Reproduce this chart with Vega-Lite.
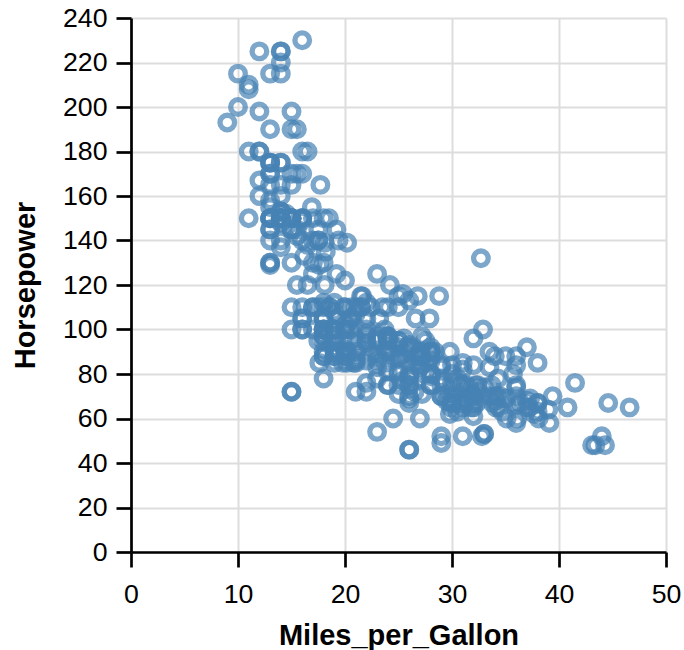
{
  "$schema": "https://vega.github.io/schema/vega-lite/v6.json",
  "width": 535,
  "height": 534,
  "autosize": {"type": "none"},
  "padding": {"left": 131, "top": 18, "right": 18, "bottom": 98},
  "data": {"values": [
{"Miles_per_Gallon":18,"Horsepower":130},{"Miles_per_Gallon":15,"Horsepower":165},{"Miles_per_Gallon":18,"Horsepower":150},{"Miles_per_Gallon":16,"Horsepower":150},{"Miles_per_Gallon":17,"Horsepower":140},{"Miles_per_Gallon":15,"Horsepower":198},{"Miles_per_Gallon":14,"Horsepower":220},{"Miles_per_Gallon":14,"Horsepower":215},{"Miles_per_Gallon":14,"Horsepower":225},{"Miles_per_Gallon":15,"Horsepower":190},{"Miles_per_Gallon":15,"Horsepower":170},{"Miles_per_Gallon":14,"Horsepower":160},{"Miles_per_Gallon":15,"Horsepower":150},{"Miles_per_Gallon":14,"Horsepower":225},{"Miles_per_Gallon":24,"Horsepower":95},{"Miles_per_Gallon":22,"Horsepower":95},{"Miles_per_Gallon":18,"Horsepower":97},{"Miles_per_Gallon":21,"Horsepower":85},{"Miles_per_Gallon":27,"Horsepower":88},{"Miles_per_Gallon":26,"Horsepower":46},{"Miles_per_Gallon":25,"Horsepower":87},{"Miles_per_Gallon":24,"Horsepower":90},{"Miles_per_Gallon":25,"Horsepower":95},{"Miles_per_Gallon":26,"Horsepower":113},{"Miles_per_Gallon":21,"Horsepower":90},{"Miles_per_Gallon":10,"Horsepower":215},{"Miles_per_Gallon":10,"Horsepower":200},{"Miles_per_Gallon":11,"Horsepower":210},{"Miles_per_Gallon":9,"Horsepower":193},{"Miles_per_Gallon":27,"Horsepower":88},{"Miles_per_Gallon":28,"Horsepower":90},{"Miles_per_Gallon":25,"Horsepower":95},{"Miles_per_Gallon":19,"Horsepower":100},{"Miles_per_Gallon":16,"Horsepower":105},{"Miles_per_Gallon":17,"Horsepower":100},{"Miles_per_Gallon":19,"Horsepower":88},{"Miles_per_Gallon":18,"Horsepower":100},{"Miles_per_Gallon":14,"Horsepower":165},{"Miles_per_Gallon":14,"Horsepower":175},{"Miles_per_Gallon":14,"Horsepower":153},{"Miles_per_Gallon":14,"Horsepower":150},{"Miles_per_Gallon":12,"Horsepower":180},{"Miles_per_Gallon":13,"Horsepower":170},{"Miles_per_Gallon":13,"Horsepower":175},{"Miles_per_Gallon":18,"Horsepower":110},{"Miles_per_Gallon":22,"Horsepower":72},{"Miles_per_Gallon":19,"Horsepower":100},{"Miles_per_Gallon":18,"Horsepower":88},{"Miles_per_Gallon":23,"Horsepower":86},{"Miles_per_Gallon":28,"Horsepower":90},{"Miles_per_Gallon":30,"Horsepower":70},{"Miles_per_Gallon":30,"Horsepower":76},{"Miles_per_Gallon":31,"Horsepower":65},{"Miles_per_Gallon":35,"Horsepower":69},{"Miles_per_Gallon":27,"Horsepower":60},{"Miles_per_Gallon":26,"Horsepower":70},{"Miles_per_Gallon":24,"Horsepower":95},{"Miles_per_Gallon":25,"Horsepower":80},{"Miles_per_Gallon":23,"Horsepower":54},{"Miles_per_Gallon":20,"Horsepower":90},{"Miles_per_Gallon":21,"Horsepower":86},{"Miles_per_Gallon":13,"Horsepower":165},{"Miles_per_Gallon":14,"Horsepower":175},{"Miles_per_Gallon":15,"Horsepower":150},{"Miles_per_Gallon":14,"Horsepower":153},{"Miles_per_Gallon":17,"Horsepower":150},{"Miles_per_Gallon":11,"Horsepower":208},{"Miles_per_Gallon":13,"Horsepower":155},{"Miles_per_Gallon":12,"Horsepower":160},{"Miles_per_Gallon":13,"Horsepower":190},{"Miles_per_Gallon":19,"Horsepower":97},{"Miles_per_Gallon":15,"Horsepower":150},{"Miles_per_Gallon":13,"Horsepower":130},{"Miles_per_Gallon":13,"Horsepower":140},{"Miles_per_Gallon":14,"Horsepower":150},{"Miles_per_Gallon":18,"Horsepower":112},{"Miles_per_Gallon":22,"Horsepower":76},{"Miles_per_Gallon":21,"Horsepower":87},{"Miles_per_Gallon":26,"Horsepower":69},{"Miles_per_Gallon":22,"Horsepower":86},{"Miles_per_Gallon":28,"Horsepower":92},{"Miles_per_Gallon":23,"Horsepower":97},{"Miles_per_Gallon":28,"Horsepower":80},{"Miles_per_Gallon":27,"Horsepower":88},{"Miles_per_Gallon":13,"Horsepower":175},{"Miles_per_Gallon":14,"Horsepower":150},{"Miles_per_Gallon":13,"Horsepower":145},{"Miles_per_Gallon":14,"Horsepower":137},{"Miles_per_Gallon":15,"Horsepower":150},{"Miles_per_Gallon":12,"Horsepower":198},{"Miles_per_Gallon":13,"Horsepower":150},{"Miles_per_Gallon":13,"Horsepower":158},{"Miles_per_Gallon":14,"Horsepower":150},{"Miles_per_Gallon":13,"Horsepower":215},{"Miles_per_Gallon":12,"Horsepower":225},{"Miles_per_Gallon":13,"Horsepower":175},{"Miles_per_Gallon":18,"Horsepower":105},{"Miles_per_Gallon":16,"Horsepower":100},{"Miles_per_Gallon":18,"Horsepower":100},{"Miles_per_Gallon":18,"Horsepower":88},{"Miles_per_Gallon":23,"Horsepower":95},{"Miles_per_Gallon":26,"Horsepower":46},{"Miles_per_Gallon":11,"Horsepower":150},{"Miles_per_Gallon":12,"Horsepower":167},{"Miles_per_Gallon":13,"Horsepower":170},{"Miles_per_Gallon":12,"Horsepower":180},{"Miles_per_Gallon":18,"Horsepower":100},{"Miles_per_Gallon":20,"Horsepower":88},{"Miles_per_Gallon":21,"Horsepower":72},{"Miles_per_Gallon":22,"Horsepower":94},{"Miles_per_Gallon":18,"Horsepower":90},{"Miles_per_Gallon":19,"Horsepower":85},{"Miles_per_Gallon":21,"Horsepower":107},{"Miles_per_Gallon":26,"Horsepower":90},{"Miles_per_Gallon":15,"Horsepower":145},{"Miles_per_Gallon":16,"Horsepower":230},{"Miles_per_Gallon":29,"Horsepower":49},{"Miles_per_Gallon":24,"Horsepower":75},{"Miles_per_Gallon":20,"Horsepower":91},{"Miles_per_Gallon":19,"Horsepower":112},{"Miles_per_Gallon":15,"Horsepower":150},{"Miles_per_Gallon":24,"Horsepower":110},{"Miles_per_Gallon":20,"Horsepower":122},{"Miles_per_Gallon":11,"Horsepower":180},{"Miles_per_Gallon":20,"Horsepower":95},{"Miles_per_Gallon":19,"Horsepower":100},{"Miles_per_Gallon":15,"Horsepower":100},{"Miles_per_Gallon":31,"Horsepower":67},{"Miles_per_Gallon":26,"Horsepower":80},{"Miles_per_Gallon":32,"Horsepower":65},{"Miles_per_Gallon":25,"Horsepower":75},{"Miles_per_Gallon":16,"Horsepower":100},{"Miles_per_Gallon":16,"Horsepower":110},{"Miles_per_Gallon":18,"Horsepower":105},{"Miles_per_Gallon":16,"Horsepower":140},{"Miles_per_Gallon":13,"Horsepower":150},{"Miles_per_Gallon":14,"Horsepower":150},{"Miles_per_Gallon":14,"Horsepower":140},{"Miles_per_Gallon":14,"Horsepower":150},{"Miles_per_Gallon":29,"Horsepower":83},{"Miles_per_Gallon":26,"Horsepower":67},{"Miles_per_Gallon":26,"Horsepower":78},{"Miles_per_Gallon":31,"Horsepower":52},{"Miles_per_Gallon":32,"Horsepower":61},{"Miles_per_Gallon":28,"Horsepower":75},{"Miles_per_Gallon":24,"Horsepower":75},{"Miles_per_Gallon":26,"Horsepower":75},{"Miles_per_Gallon":24,"Horsepower":97},{"Miles_per_Gallon":26,"Horsepower":93},{"Miles_per_Gallon":31,"Horsepower":67},{"Miles_per_Gallon":19,"Horsepower":95},{"Miles_per_Gallon":18,"Horsepower":105},{"Miles_per_Gallon":15,"Horsepower":72},{"Miles_per_Gallon":15,"Horsepower":72},{"Miles_per_Gallon":16,"Horsepower":170},{"Miles_per_Gallon":15,"Horsepower":145},{"Miles_per_Gallon":16,"Horsepower":150},{"Miles_per_Gallon":14,"Horsepower":148},{"Miles_per_Gallon":17,"Horsepower":110},{"Miles_per_Gallon":16,"Horsepower":105},{"Miles_per_Gallon":15,"Horsepower":110},{"Miles_per_Gallon":18,"Horsepower":95},{"Miles_per_Gallon":21,"Horsepower":110},{"Miles_per_Gallon":20,"Horsepower":110},{"Miles_per_Gallon":13,"Horsepower":129},{"Miles_per_Gallon":29,"Horsepower":75},{"Miles_per_Gallon":23,"Horsepower":83},{"Miles_per_Gallon":20,"Horsepower":100},{"Miles_per_Gallon":23,"Horsepower":78},{"Miles_per_Gallon":24,"Horsepower":96},{"Miles_per_Gallon":25,"Horsepower":71},{"Miles_per_Gallon":24,"Horsepower":97},{"Miles_per_Gallon":18,"Horsepower":97},{"Miles_per_Gallon":29,"Horsepower":70},{"Miles_per_Gallon":19,"Horsepower":90},{"Miles_per_Gallon":23,"Horsepower":95},{"Miles_per_Gallon":23,"Horsepower":88},{"Miles_per_Gallon":22,"Horsepower":98},{"Miles_per_Gallon":25,"Horsepower":115},{"Miles_per_Gallon":33,"Horsepower":53},{"Miles_per_Gallon":28,"Horsepower":86},{"Miles_per_Gallon":25,"Horsepower":81},{"Miles_per_Gallon":25,"Horsepower":92},{"Miles_per_Gallon":26,"Horsepower":79},{"Miles_per_Gallon":27,"Horsepower":83},{"Miles_per_Gallon":17.5,"Horsepower":140},{"Miles_per_Gallon":16,"Horsepower":150},{"Miles_per_Gallon":15.5,"Horsepower":120},{"Miles_per_Gallon":14.5,"Horsepower":152},{"Miles_per_Gallon":22,"Horsepower":100},{"Miles_per_Gallon":22,"Horsepower":105},{"Miles_per_Gallon":24,"Horsepower":81},{"Miles_per_Gallon":22.5,"Horsepower":90},{"Miles_per_Gallon":29,"Horsepower":52},{"Miles_per_Gallon":24.5,"Horsepower":60},{"Miles_per_Gallon":29,"Horsepower":70},{"Miles_per_Gallon":33,"Horsepower":53},{"Miles_per_Gallon":20,"Horsepower":100},{"Miles_per_Gallon":18,"Horsepower":78},{"Miles_per_Gallon":18.5,"Horsepower":110},{"Miles_per_Gallon":17.5,"Horsepower":95},{"Miles_per_Gallon":29.5,"Horsepower":71},{"Miles_per_Gallon":32,"Horsepower":70},{"Miles_per_Gallon":28,"Horsepower":75},{"Miles_per_Gallon":26.5,"Horsepower":72},{"Miles_per_Gallon":20,"Horsepower":102},{"Miles_per_Gallon":13,"Horsepower":150},{"Miles_per_Gallon":19,"Horsepower":88},{"Miles_per_Gallon":19,"Horsepower":108},{"Miles_per_Gallon":16.5,"Horsepower":120},{"Miles_per_Gallon":16.5,"Horsepower":180},{"Miles_per_Gallon":13,"Horsepower":145},{"Miles_per_Gallon":13,"Horsepower":130},{"Miles_per_Gallon":13,"Horsepower":150},{"Miles_per_Gallon":31.5,"Horsepower":68},{"Miles_per_Gallon":30,"Horsepower":80},{"Miles_per_Gallon":36,"Horsepower":58},{"Miles_per_Gallon":25.5,"Horsepower":96},{"Miles_per_Gallon":33.5,"Horsepower":70},{"Miles_per_Gallon":17.5,"Horsepower":145},{"Miles_per_Gallon":17,"Horsepower":110},{"Miles_per_Gallon":15.5,"Horsepower":145},{"Miles_per_Gallon":15,"Horsepower":130},{"Miles_per_Gallon":17.5,"Horsepower":110},{"Miles_per_Gallon":20.5,"Horsepower":105},{"Miles_per_Gallon":19,"Horsepower":100},{"Miles_per_Gallon":18.5,"Horsepower":98},{"Miles_per_Gallon":16,"Horsepower":180},{"Miles_per_Gallon":15.5,"Horsepower":170},{"Miles_per_Gallon":15.5,"Horsepower":190},{"Miles_per_Gallon":16,"Horsepower":149},{"Miles_per_Gallon":29,"Horsepower":78},{"Miles_per_Gallon":24.5,"Horsepower":88},{"Miles_per_Gallon":26,"Horsepower":75},{"Miles_per_Gallon":25.5,"Horsepower":89},{"Miles_per_Gallon":30.5,"Horsepower":63},{"Miles_per_Gallon":33.5,"Horsepower":83},{"Miles_per_Gallon":30,"Horsepower":67},{"Miles_per_Gallon":30.5,"Horsepower":78},{"Miles_per_Gallon":22,"Horsepower":97},{"Miles_per_Gallon":21.5,"Horsepower":110},{"Miles_per_Gallon":21.5,"Horsepower":110},{"Miles_per_Gallon":43.1,"Horsepower":48},{"Miles_per_Gallon":36.1,"Horsepower":66},{"Miles_per_Gallon":32.8,"Horsepower":52},{"Miles_per_Gallon":39.4,"Horsepower":70},{"Miles_per_Gallon":36.1,"Horsepower":60},{"Miles_per_Gallon":19.9,"Horsepower":110},{"Miles_per_Gallon":19.4,"Horsepower":140},{"Miles_per_Gallon":20.2,"Horsepower":139},{"Miles_per_Gallon":19.2,"Horsepower":105},{"Miles_per_Gallon":20.5,"Horsepower":95},{"Miles_per_Gallon":20.2,"Horsepower":85},{"Miles_per_Gallon":25.1,"Horsepower":88},{"Miles_per_Gallon":20.5,"Horsepower":100},{"Miles_per_Gallon":19.4,"Horsepower":90},{"Miles_per_Gallon":20.6,"Horsepower":105},{"Miles_per_Gallon":20.8,"Horsepower":85},{"Miles_per_Gallon":18.6,"Horsepower":110},{"Miles_per_Gallon":18.1,"Horsepower":120},{"Miles_per_Gallon":19.2,"Horsepower":145},{"Miles_per_Gallon":17.7,"Horsepower":165},{"Miles_per_Gallon":18.1,"Horsepower":139},{"Miles_per_Gallon":17.5,"Horsepower":140},{"Miles_per_Gallon":30,"Horsepower":68},{"Miles_per_Gallon":27.5,"Horsepower":95},{"Miles_per_Gallon":27.2,"Horsepower":97},{"Miles_per_Gallon":30.9,"Horsepower":75},{"Miles_per_Gallon":21.1,"Horsepower":95},{"Miles_per_Gallon":23.2,"Horsepower":105},{"Miles_per_Gallon":23.8,"Horsepower":85},{"Miles_per_Gallon":23.9,"Horsepower":97},{"Miles_per_Gallon":20.3,"Horsepower":103},{"Miles_per_Gallon":17,"Horsepower":125},{"Miles_per_Gallon":21.6,"Horsepower":115},{"Miles_per_Gallon":16.2,"Horsepower":133},{"Miles_per_Gallon":31.5,"Horsepower":71},{"Miles_per_Gallon":29.5,"Horsepower":68},{"Miles_per_Gallon":21.5,"Horsepower":115},{"Miles_per_Gallon":19.8,"Horsepower":85},{"Miles_per_Gallon":22.3,"Horsepower":88},{"Miles_per_Gallon":20.2,"Horsepower":90},{"Miles_per_Gallon":20.6,"Horsepower":110},{"Miles_per_Gallon":17,"Horsepower":130},{"Miles_per_Gallon":17.6,"Horsepower":129},{"Miles_per_Gallon":16.5,"Horsepower":138},{"Miles_per_Gallon":18.2,"Horsepower":135},{"Miles_per_Gallon":16.9,"Horsepower":155},{"Miles_per_Gallon":15.5,"Horsepower":142},{"Miles_per_Gallon":19.2,"Horsepower":125},{"Miles_per_Gallon":18.5,"Horsepower":150},{"Miles_per_Gallon":31.9,"Horsepower":71},{"Miles_per_Gallon":34.1,"Horsepower":65},{"Miles_per_Gallon":35.7,"Horsepower":80},{"Miles_per_Gallon":27.4,"Horsepower":80},{"Miles_per_Gallon":25.4,"Horsepower":77},{"Miles_per_Gallon":23,"Horsepower":125},{"Miles_per_Gallon":27.2,"Horsepower":71},{"Miles_per_Gallon":23.9,"Horsepower":90},{"Miles_per_Gallon":34.2,"Horsepower":70},{"Miles_per_Gallon":34.5,"Horsepower":70},{"Miles_per_Gallon":31.8,"Horsepower":65},{"Miles_per_Gallon":37.3,"Horsepower":69},{"Miles_per_Gallon":28.4,"Horsepower":90},{"Miles_per_Gallon":28.8,"Horsepower":115},{"Miles_per_Gallon":26.8,"Horsepower":115},{"Miles_per_Gallon":33.5,"Horsepower":90},{"Miles_per_Gallon":41.5,"Horsepower":76},{"Miles_per_Gallon":38.1,"Horsepower":60},{"Miles_per_Gallon":32.1,"Horsepower":70},{"Miles_per_Gallon":37.2,"Horsepower":65},{"Miles_per_Gallon":28,"Horsepower":90},{"Miles_per_Gallon":26.4,"Horsepower":88},{"Miles_per_Gallon":24.3,"Horsepower":90},{"Miles_per_Gallon":19.1,"Horsepower":90},{"Miles_per_Gallon":34.3,"Horsepower":78},{"Miles_per_Gallon":29.8,"Horsepower":90},{"Miles_per_Gallon":31.3,"Horsepower":75},{"Miles_per_Gallon":37,"Horsepower":92},{"Miles_per_Gallon":32.2,"Horsepower":75},{"Miles_per_Gallon":46.6,"Horsepower":65},{"Miles_per_Gallon":27.9,"Horsepower":105},{"Miles_per_Gallon":40.8,"Horsepower":65},{"Miles_per_Gallon":44.3,"Horsepower":48},{"Miles_per_Gallon":43.4,"Horsepower":48},{"Miles_per_Gallon":36.4,"Horsepower":67},{"Miles_per_Gallon":30,"Horsepower":67},{"Miles_per_Gallon":44.6,"Horsepower":67},{"Miles_per_Gallon":33.8,"Horsepower":67},{"Miles_per_Gallon":29.8,"Horsepower":62},{"Miles_per_Gallon":32.7,"Horsepower":132},{"Miles_per_Gallon":23.7,"Horsepower":100},{"Miles_per_Gallon":35,"Horsepower":88},{"Miles_per_Gallon":32.4,"Horsepower":72},{"Miles_per_Gallon":27.2,"Horsepower":84},{"Miles_per_Gallon":26.6,"Horsepower":84},{"Miles_per_Gallon":25.8,"Horsepower":92},{"Miles_per_Gallon":23.5,"Horsepower":110},{"Miles_per_Gallon":30,"Horsepower":84},{"Miles_per_Gallon":39.1,"Horsepower":58},{"Miles_per_Gallon":39,"Horsepower":64},{"Miles_per_Gallon":35.1,"Horsepower":60},{"Miles_per_Gallon":32.3,"Horsepower":67},{"Miles_per_Gallon":37,"Horsepower":65},{"Miles_per_Gallon":37.7,"Horsepower":62},{"Miles_per_Gallon":34.1,"Horsepower":68},{"Miles_per_Gallon":34.7,"Horsepower":63},{"Miles_per_Gallon":34.4,"Horsepower":65},{"Miles_per_Gallon":29.9,"Horsepower":65},{"Miles_per_Gallon":33,"Horsepower":74},{"Miles_per_Gallon":33.7,"Horsepower":75},{"Miles_per_Gallon":32.4,"Horsepower":75},{"Miles_per_Gallon":32.9,"Horsepower":100},{"Miles_per_Gallon":31.6,"Horsepower":74},{"Miles_per_Gallon":28.1,"Horsepower":80},{"Miles_per_Gallon":30.7,"Horsepower":76},{"Miles_per_Gallon":25.4,"Horsepower":116},{"Miles_per_Gallon":24.2,"Horsepower":120},{"Miles_per_Gallon":22.4,"Horsepower":110},{"Miles_per_Gallon":26.6,"Horsepower":105},{"Miles_per_Gallon":20.2,"Horsepower":88},{"Miles_per_Gallon":17.6,"Horsepower":85},{"Miles_per_Gallon":28,"Horsepower":88},{"Miles_per_Gallon":27,"Horsepower":88},{"Miles_per_Gallon":34,"Horsepower":88},{"Miles_per_Gallon":31,"Horsepower":85},{"Miles_per_Gallon":29,"Horsepower":84},{"Miles_per_Gallon":27,"Horsepower":90},{"Miles_per_Gallon":24,"Horsepower":92},{"Miles_per_Gallon":36,"Horsepower":74},{"Miles_per_Gallon":37,"Horsepower":68},{"Miles_per_Gallon":31,"Horsepower":68},{"Miles_per_Gallon":38,"Horsepower":63},{"Miles_per_Gallon":36,"Horsepower":70},{"Miles_per_Gallon":36,"Horsepower":88},{"Miles_per_Gallon":36,"Horsepower":75},{"Miles_per_Gallon":34,"Horsepower":70},{"Miles_per_Gallon":38,"Horsepower":67},{"Miles_per_Gallon":32,"Horsepower":67},{"Miles_per_Gallon":38,"Horsepower":67},{"Miles_per_Gallon":25,"Horsepower":110},{"Miles_per_Gallon":38,"Horsepower":85},{"Miles_per_Gallon":26,"Horsepower":92},{"Miles_per_Gallon":22,"Horsepower":112},{"Miles_per_Gallon":32,"Horsepower":96},{"Miles_per_Gallon":36,"Horsepower":84},{"Miles_per_Gallon":27,"Horsepower":90},{"Miles_per_Gallon":27,"Horsepower":86},{"Miles_per_Gallon":44,"Horsepower":52},{"Miles_per_Gallon":32,"Horsepower":84},{"Miles_per_Gallon":28,"Horsepower":79},{"Miles_per_Gallon":31,"Horsepower":82}
  ]},
  "mark": {"type": "point", "filled": false, "color": "#4682b4", "opacity": 0.7, "strokeWidth": 5.3, "size": 214},
  "encoding": {
    "x": {
      "field": "Miles_per_Gallon", "type": "quantitative",
      "scale": {"domain": [0, 50]},
      "axis": {"values": [0, 10, 20, 30, 40, 50], "labelFlush": false, "labelPadding": 14, "titleX": 267.5, "titleY": 92, "titleBaseline": "alphabetic", "titleAnchor": "middle"}
    },
    "y": {
      "field": "Horsepower", "type": "quantitative",
      "scale": {"domain": [0, 240]},
      "axis": {"values": [0, 20, 40, 60, 80, 100, 120, 140, 160, 180, 200, 220, 240], "labelPadding": 9, "titleX": -97, "titleY": 267, "titleBaseline": "alphabetic", "titleAnchor": "middle"}
    }
  },
  "config": {
    "view": {"stroke": null},
    "font": "Liberation Sans",
    "axis": {
      "domainColor": "#000", "domainWidth": 2.7,
      "tickColor": "#000", "tickWidth": 2.7, "tickSize": 15,
      "gridColor": "#ddd", "gridWidth": 2,
      "labelFont": "Liberation Sans", "labelFontSize": 26.7, "labelColor": "#000",
      "titleFont": "Liberation Sans", "titleFontSize": 29, "titleFontWeight": "bold", "titleColor": "#000"
    }
  }
}
